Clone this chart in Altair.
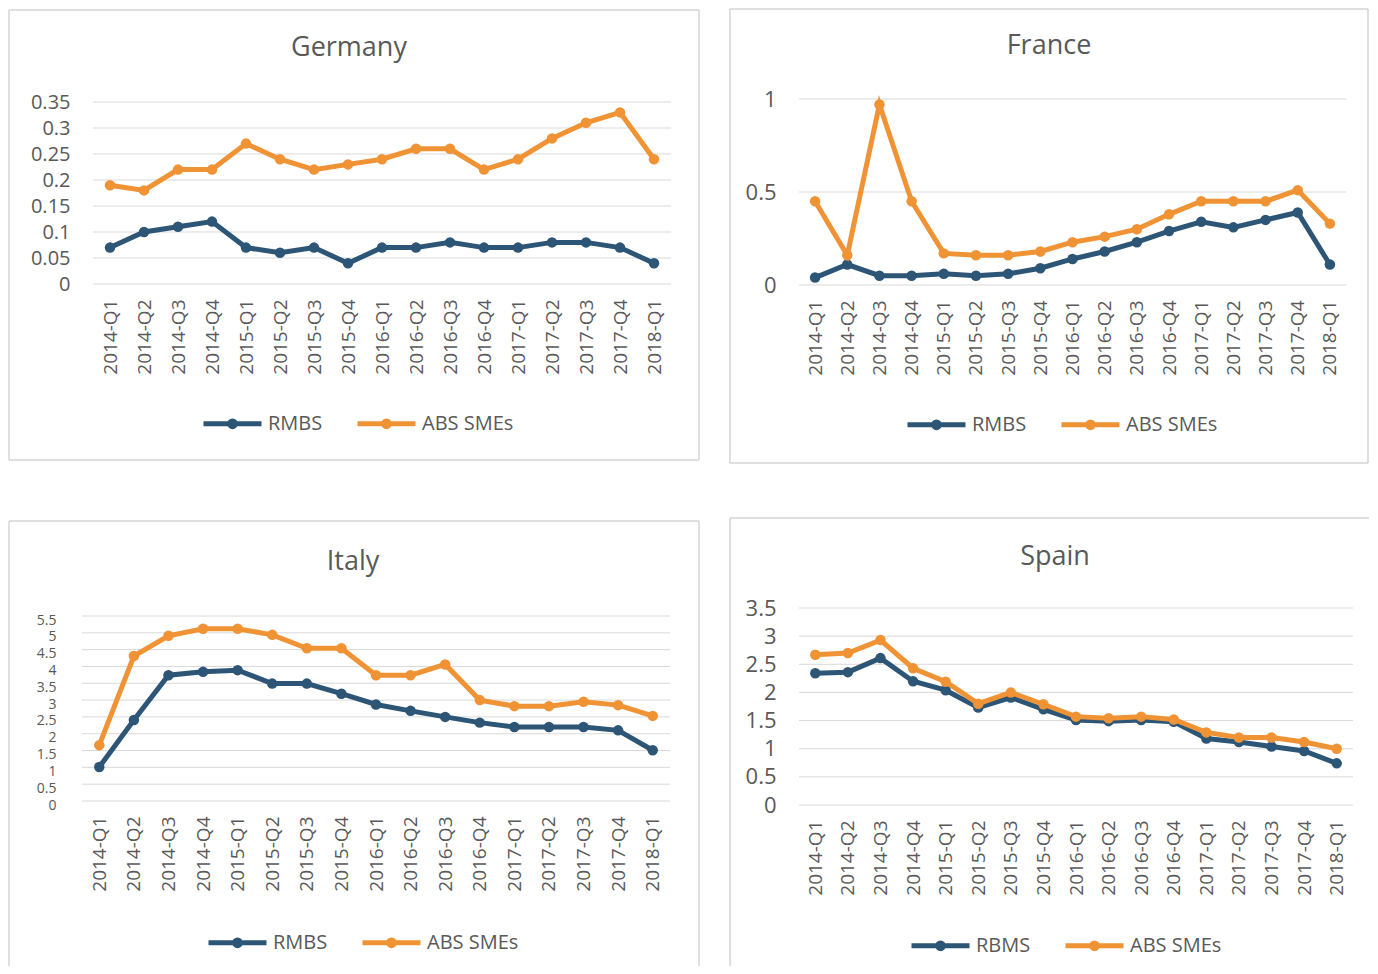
import altair as alt
import pandas as pd

quarters = ["2014-Q1", "2014-Q2", "2014-Q3", "2014-Q4", "2015-Q1", "2015-Q2",
            "2015-Q3", "2015-Q4", "2016-Q1", "2016-Q2", "2016-Q3", "2016-Q4",
            "2017-Q1", "2017-Q2", "2017-Q3", "2017-Q4", "2018-Q1"]

germany_rmbs = [0.07, 0.10, 0.11, 0.12, 0.07, 0.06, 0.07, 0.04, 0.07, 0.07, 0.08, 0.07, 0.07, 0.08, 0.08, 0.07, 0.04]
germany_abs = [0.19, 0.18, 0.22, 0.22, 0.27, 0.24, 0.22, 0.23, 0.24, 0.26, 0.26, 0.22, 0.24, 0.28, 0.31, 0.33, 0.24]
france_rmbs = [0.04, 0.11, 0.05, 0.05, 0.06, 0.05, 0.06, 0.09, 0.14, 0.18, 0.23, 0.29, 0.34, 0.31, 0.35, 0.39, 0.11]
france_abs = [0.45, 0.16, 0.97, 0.45, 0.17, 0.16, 0.16, 0.18, 0.23, 0.26, 0.30, 0.38, 0.45, 0.45, 0.45, 0.51, 0.33]
italy_rmbs = [1.01, 2.41, 3.74, 3.84, 3.89, 3.49, 3.49, 3.19, 2.87, 2.68, 2.50, 2.33, 2.20, 2.20, 2.20, 2.10, 1.51]
italy_abs = [1.66, 4.31, 4.91, 5.12, 5.12, 4.94, 4.54, 4.54, 3.74, 3.74, 4.06, 3.00, 2.82, 2.82, 2.95, 2.85, 2.53]
spain_rbms = [2.34, 2.36, 2.61, 2.20, 2.04, 1.73, 1.91, 1.70, 1.51, 1.49, 1.51, 1.48, 1.18, 1.12, 1.04, 0.96, 0.74]
spain_abs = [2.67, 2.70, 2.93, 2.43, 2.19, 1.80, 2.00, 1.79, 1.57, 1.54, 1.57, 1.52, 1.29, 1.20, 1.20, 1.12, 1.00]

germany_ticks = [0, 0.05, 0.1, 0.15, 0.2, 0.25, 0.3, 0.35]
france_ticks = [0, 0.5, 1]
italy_ticks = [0, 0.5, 1, 1.5, 2, 2.5, 3, 3.5, 4, 4.5, 5, 5.5]
spain_ticks = [0, 0.5, 1, 1.5, 2, 2.5, 3, 3.5]

BLUE = "#2c5576"
ORANGE = "#ef9335"
GREY = "#595959"
GRID = "#d9d9d9"
BOX = "#d4d4d4"
FONT = "Open Sans"
SYMBOL = "M-1,0L1,0M-0.1,0A0.1,0.1,0,1,0,0.1,0A0.1,0.1,0,1,0,-0.1,0"

one = pd.DataFrame({"k": [0]})


def seg(x1, y1, x2, y2):
    return alt.Chart(one).mark_rule(color=BOX, strokeWidth=1.5).encode(
        x=alt.value(x1), y=alt.value(y1), x2=alt.value(x2), y2=alt.value(y2))


def panel(title, names, s1, s2, ticks, view, plot, sides, title_pos, legend_pos,
          ylabel_size=22, label_offset=0, ylabel_pad=23):
    vw, vh = view
    x0, x1, y0, y1 = plot
    df = pd.DataFrame({
        "quarter": quarters + quarters,
        "series": [names[0]] * len(s1) + [names[1]] * len(s2),
        "value": s1 + s2,
    })
    grid_df = pd.DataFrame({"v": ticks})
    yscale = alt.Scale(domain=[0, ticks[-1]], range=[y1, y0], nice=False, zero=True)
    yaxis = alt.Axis(values=ticks, format="~g", labelFont=FONT,
                     labelFontSize=ylabel_size, labelColor=GREY, labelPadding=ylabel_pad,
                     labelOffset=label_offset, labelOverlap=False,
                     domain=False, ticks=False, tickSize=0, grid=False,
                     offset=-x0)
    x = alt.X("quarter:N", sort=quarters, title=None,
              scale=alt.Scale(type="point", range=[x0, x1], padding=0.5),
              axis=alt.Axis(labelAngle=270, labelFont=FONT, labelFontSize=19,
                            labelColor=GREY, labelPadding=15, domain=False,
                            ticks=False, tickSize=0, grid=False,
                            offset=y1 - vh))
    color = alt.Color("series:N", title=None,
                      scale=alt.Scale(domain=names, range=[BLUE, ORANGE]),
                      legend=alt.Legend(orient="none", direction="horizontal",
                                        legendX=legend_pos[0], legendY=legend_pos[1],
                                        symbolType=SYMBOL, symbolSize=3364,
                                        symbolStrokeWidth=5, labelFont=FONT,
                                        labelFontSize=20, labelColor=GREY,
                                        labelOffset=4, columnPadding=24))
    grid = alt.Chart(grid_df).mark_rule(color=GRID, strokeWidth=1).encode(
        y=alt.Y("v:Q", title=None, scale=yscale, axis=yaxis),
        x=alt.value(x0), x2=alt.value(x1))
    base = alt.Chart(df)
    layers = []
    for nm in names:
        layers.append(
            base.transform_filter(alt.datum.series == nm)
            .mark_line(strokeWidth=5, point=alt.OverlayMarkDef(filled=True, size=110))
            .encode(x=x, y=alt.Y("value:Q", title=None, scale=yscale, axis=yaxis),
                    color=color)
        )
    deco = [seg(*s) for s in sides]
    ttl = alt.Chart(one).mark_text(text=title, font=FONT, fontSize=27, color=GREY,
                                   align="center", baseline="alphabetic").encode(
        x=alt.value(title_pos[0]), y=alt.value(title_pos[1]))
    return alt.layer(*deco, ttl, grid, *layers).properties(width=vw, height=vh)


# view sizes and inner plot rectangles (x0, x1, y0, y1) in each panel's own pixels
germany = panel("Germany", ["RMBS", "ABS SMEs"], germany_rmbs, germany_abs, germany_ticks,
                (692, 456), (85, 663, 94, 276),
                [(1, 2, 691, 2), (1, 452, 691, 452), (1, 2, 1, 452), (691, 2, 691, 452)],
                (341, 48), (193, 384), ylabel_size=20)
france = panel("France", ["RMBS", "ABS SMEs"], france_rmbs, france_abs, france_ticks,
               (640, 456), (70, 617, 91, 277),
               [(1, 1, 639, 1), (1, 455, 639, 455), (1, 1, 1, 455), (639, 1, 639, 455)],
               (320, 46), (176, 385))
italy = panel("Italy", ["RMBS", "ABS SMEs"], italy_rmbs, italy_abs, italy_ticks,
              (692, 449), (74, 662, 99, 284),
              [(1, 4, 691, 4), (1, 4, 1, 449), (691, 4, 691, 449)],
              (345, 53), (198, 394), ylabel_size=14, label_offset=4, ylabel_pad=26)
spain = panel("Spain", ["RBMS", "ABS SMEs"], spain_rbms, spain_abs, spain_ticks,
              (640, 449), (70, 624, 91, 288),
              [(1, 1, 640, 1), (1, 1, 1, 449)],
              (326, 48), (180, 397))

row1 = alt.hconcat(germany, france, spacing=29).resolve_scale(
    x="independent", y="independent", color="independent").resolve_legend(color="independent")
row2 = alt.hconcat(italy, spain, spacing=29).resolve_scale(
    x="independent", y="independent", color="independent").resolve_legend(color="independent")

chart = alt.vconcat(row1, row2, spacing=53).resolve_scale(
    x="independent", y="independent", color="independent").resolve_legend(
    color="independent").properties(padding=0).configure_view(strokeWidth=0)

chart.save("out.html", embed_options={"renderer": "svg", "actions": False})
